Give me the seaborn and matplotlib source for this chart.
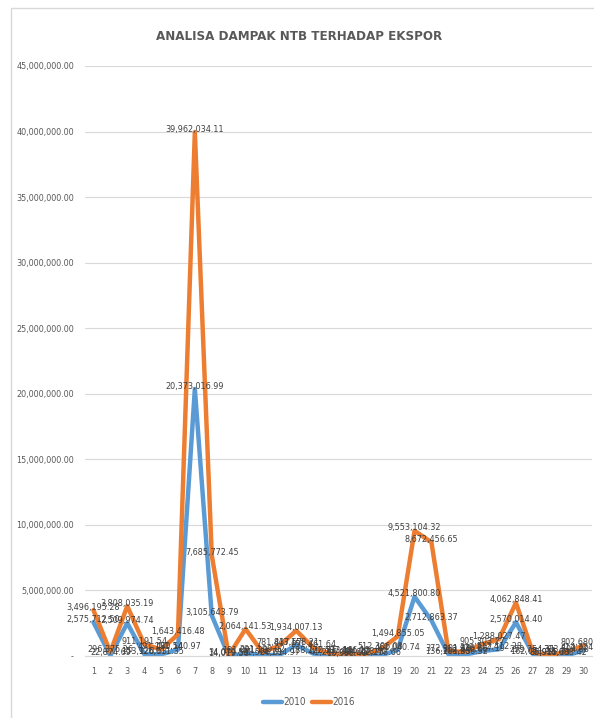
import matplotlib
matplotlib.use("Agg")
import matplotlib.pyplot as plt
from matplotlib import font_manager
from matplotlib.patches import Rectangle
from matplotlib.ticker import FuncFormatter
import seaborn as sns
import pandas as pd

# Period index 1..30 and export values for the two years
periods = list(range(1, 31))
years = ["2010", "2016"]
values_2010 = [
    2575712.50, 22874.69, 2509974.74, 153926.63, 126011.35,
    480140.97, 20373016.99, 3105643.79, 14019.56, 181091.28,
    91526.61, 64284.97, 843158.21, 188220.71, 41286.05,
    16338.40, 38602.15, 42278.66, 461040.74, 4521800.80,
    2712863.37, 136201.85, 108366.52, 376607.19, 512412.28,
    2570014.40, 162051.18, 36915.70, 54088.42, 414324.28,
]
values_2016 = [
    3496195.28, 296375.26, 3808035.19, 911191.54, 491191.54,
    1643416.48, 39962034.11, 7685772.45, 34079.55, 2064141.53,
    291199.92, 781437.57, 1934007.13, 651461.64, 172533.19,
    187446.12, 124778.40, 512306.08, 1494855.05, 9553104.32,
    8672456.65, 372901.48, 312840.66, 905303.27, 1288027.47,
    4062848.41, 259754.31, 85915.63, 313504.88, 802680.21,
]
title = "ANALISA DAMPAK NTB TERHADAP EKSPOR"
colors = {"2010": "#5B9BD5", "2016": "#ED7D31"}

df = pd.DataFrame({
    "period": periods * 2,
    "value": values_2010 + values_2016,
    "year": [years[0]] * len(periods) + [years[1]] * len(periods),
})

sns.set_style("white")


def _narrow(stretch):
    named = {"ultra-condensed": 100, "extra-condensed": 200, "condensed": 300,
             "semi-condensed": 400}
    if isinstance(stretch, str):
        return named.get(stretch, 500) < 500
    return stretch < 500


# prefer a condensed face when one is available
fonts = font_manager.fontManager.ttflist
installed = {f.name for f in fonts}
condensed = sorted({f.name for f in fonts if _narrow(f.stretch)
                    and f.name in ("Liberation Sans Narrow", "Noto Sans", "Open Sans",
                                   "Roboto", "Inter", "DejaVu Sans")})
stretch = "normal"
if "Liberation Sans Narrow" in installed:
    primary = "Liberation Sans Narrow"
elif condensed:
    primary = condensed[0]
    stretch = "condensed"
else:
    primary = "Lato"
family = [f for f in [primary, "Lato", "DejaVu Sans"] if f in installed]
plt.rcParams["font.family"] = family
plt.rcParams["font.stretch"] = stretch

text_color = "#595959"
label_color = "#404040"

fig = plt.figure(figsize=(5.94, 7.18), dpi=100)
renderer = fig.canvas.get_renderer()


def fit_size(sample, width_px, weight="normal"):
    """Font size at which `sample` spans width_px pixels."""
    t = fig.text(0, 0, sample, fontsize=10, fontweight=weight)
    w = t.get_window_extent(renderer).width
    t.remove()
    return 10 * width_px / w


small = fit_size("40,000,000.00", 60)
title_size = fit_size(title, 286, weight="semibold")

ax = fig.add_axes([85 / 594, 1 - 656 / 718, (592 - 85) / 594, (656 - 66) / 718])

sns.lineplot(data=df, x="period", y="value", hue="year", palette=colors,
             linewidth=3.2, ax=ax, legend=False, sort=False)

# value labels on every point
for yr, vals in (("2010", values_2010), ("2016", values_2016)):
    for p, v in zip(periods, vals):
        ax.annotate(f"{v:,.2f}", (p, v), xytext=(0, 2), textcoords="offset points",
                    ha="center", va="center", fontsize=small, color=label_color)

ax.set_xlim(0.5, 30.5)
ax.set_ylim(0, 45_000_000)
ax.set_xticks(periods)
ax.set_yticks(range(0, 45_000_001, 5_000_000))
ax.yaxis.set_major_formatter(FuncFormatter(lambda v, _: "-" if v == 0 else f"{v:,.2f}"))
ax.tick_params(axis="both", labelsize=small, colors=text_color, length=0)
ax.tick_params(axis="y", pad=8)
ax.tick_params(axis="x", pad=8)
ax.grid(axis="y", color="#D9D9D9", linewidth=0.8)
ax.set_axisbelow(True)
for side in ("top", "right", "left"):
    ax.spines[side].set_visible(False)
ax.spines["bottom"].set_color("#D9D9D9")
ax.spines["bottom"].set_linewidth(0.8)
ax.set_xlabel("")
ax.set_ylabel("")

fig.text(299 / 594, 1 - 36 / 718, title, ha="center", va="center", fontsize=title_size,
         color=text_color, fontweight="semibold")

handles = [plt.Line2D([], [], color=colors[y], linewidth=3.2) for y in years]
fig.legend(handles, years, loc="center", bbox_to_anchor=(309 / 594, 1 - 702 / 718),
           ncol=2, frameon=False, fontsize=small + 0.6, handlelength=1.9, columnspacing=0.7,
           handletextpad=0.1, labelcolor=text_color)

fig.add_artist(Rectangle((11 / 594, -0.05), 1.0, 1 - 8 / 718 + 0.05,
                         transform=fig.transFigure, fill=False,
                         edgecolor="#D9D9D9", linewidth=1.0))

fig.savefig("out.png", dpi=100, facecolor="white")
